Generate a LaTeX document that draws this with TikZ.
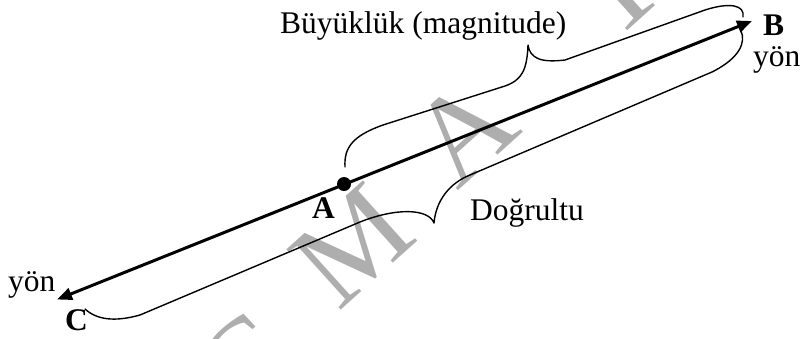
\documentclass[tikz,border=0pt]{standalone}
\usepackage{fontspec}
\setmainfont{Liberation Serif}
\usetikzlibrary{arrows.meta}
\definecolor{wmgray}{RGB}{174,174,174}
\begin{document}
\begin{tikzpicture}[x=1pt,y=-1pt,
  lbl/.style={inner sep=0pt,anchor=base west,font=\fontsize{31.5}{36}\selectfont},
  blbl/.style={inner sep=0pt,anchor=base west,font=\fontsize{31.5}{36}\selectfont\bfseries},
  brace/.style={line width=1.4pt,line cap=round,line join=round},
  vec/.style={line width=3pt,{Triangle[length=15pt,width=12pt]}-{Triangle[length=15pt,width=12pt]}},
  wm/.style={inner sep=0pt,text=wmgray,font=\fontsize{124}{124}\selectfont,rotate=42}]
\useasboundingbox (0,0) rectangle (800,338);

% faint watermark letters behind the drawing
\begin{scope}
  \clip (0,0) rectangle (800,338);
  \node[wm] (wmC) at (245,365) {C};
  \node[wm] (wmM) at (352,245) {M};
  \node[wm] (wmA) at (463,131) {A};
  \node[wm] (wmT) at (614,-12) {T};
\end{scope}

% end points of the vector and its middle point
\coordinate (C) at (57,299.5);
\coordinate (B) at (752,21);
\coordinate (A) at (344,184);

\draw[vec] (C) -- (B);
\node[circle,fill=black,inner sep=0pt,minimum size=14pt] (dotA) at (A) {};

% upper brace: magnitude, from A to B
\draw[brace] (345,167) .. controls (344,148) and (352,136) .. (383,125)
  -- (505,86) .. controls (522,80) and (527,70) .. (528,45)
  .. controls (530,58) and (540,63) .. (565,60)
  -- (705,10) .. controls (730,2) and (745,5) .. (743,17);

% lower brace: line of action, from C to B
\draw[brace] (85,309) .. controls (97,320) and (115,322) .. (140,315)
  -- (360,222) .. controls (395,208) and (428,208) .. (434,223)
  .. controls (436,200) and (450,183) .. (470,175)
  -- (712,72) .. controls (740,58) and (746,42) .. (741,31);

% labels
\node[lbl] (mag) at (280,33) {Büyüklük (magnitude)};
\node[blbl] (labB) at (763,35) {B};
\node[lbl] (yonB) at (753,66) {yön};
\node[blbl] (labA) at (312,218) {A};
\node[lbl] (dog) at (470,220) {Doğrultu};
\node[lbl] (yonC) at (8,291) {yön};
\node[blbl] (labC) at (65,330) {C};
\end{tikzpicture}
\end{document}
